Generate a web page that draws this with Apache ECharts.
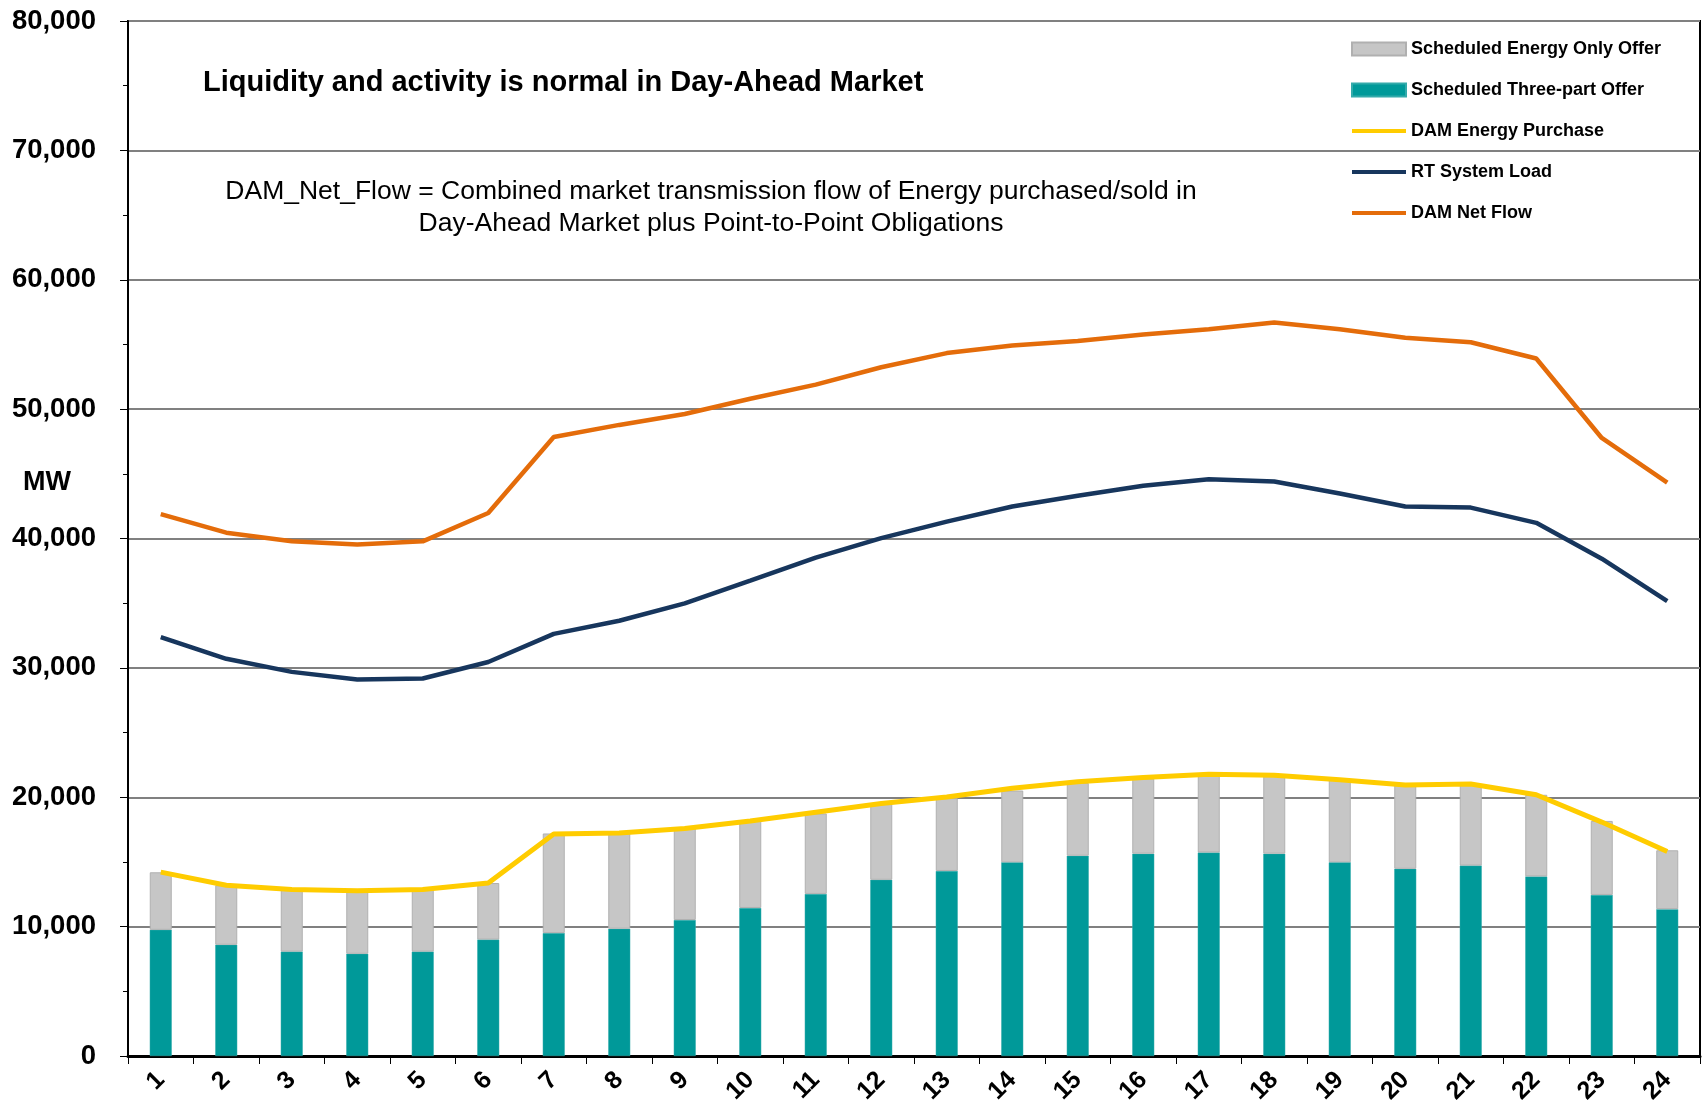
<!DOCTYPE html>
<html>
<head>
<meta charset="utf-8">
<script src="https://cdn.jsdelivr.net/npm/echarts@6/dist/echarts.min.js"></script>
<style>
  html, body { margin: 0; padding: 0; background: #fff; }
  #chart { width: 1707px; height: 1110px; }
</style>
</head>
<body>
<div id="chart"></div>
<script>
// hours of the operating day
const hours = ['1','2','3','4','5','6','7','8','9','10','11','12','13','14','15','16','17','18','19','20','21','22','23','24'];

// MW values
const threePartOffer = [9750, 8600, 8070, 7900, 8070, 9000, 9500, 9840, 10510, 11440, 12530, 13620, 14300, 14970, 15480, 15640, 15730, 15640, 14970, 14470, 14720, 13880, 12450, 11350];
const energyOnlyOffer = [4450, 4600, 4800, 4880, 4800, 4370, 7700, 7400, 7090, 6730, 6220, 5890, 5630, 5550, 5630, 5810, 6050, 6060, 6390, 6470, 6310, 6310, 5720, 4550];
const damEnergyPurchase = [14210, 13200, 12870, 12780, 12870, 13370, 17160, 17240, 17580, 18170, 18840, 19510, 20020, 20690, 21190, 21530, 21780, 21700, 21360, 20940, 21030, 20190, 18080, 15810];
const rtSystemLoad = [32380, 30700, 29690, 29100, 29180, 30450, 32630, 33640, 34990, 36750, 38520, 40030, 41300, 42470, 43310, 44070, 44580, 44410, 43480, 42470, 42390, 41210, 38440, 35160];
const damNetFlow = [41880, 40450, 39780, 39530, 39780, 41970, 47850, 48780, 49620, 50800, 51890, 53240, 54330, 54920, 55260, 55760, 56180, 56690, 56180, 55510, 55170, 53910, 47770, 44320];

const yTicks = { min: 0, max: 80000, interval: 10000 };

const chart = echarts.init(document.getElementById('chart'));
const font = 'Arial, "Liberation Sans", sans-serif';
const lineIcon = 'path://M0,0 L54,0 L54,4 L0,4 Z';

chart.setOption({
  backgroundColor: '#fff',
  animation: false,
  textStyle: { fontFamily: font },
  grid: {
    left: 128, top: 21, right: 7, bottom: 54,
    show: true, borderColor: '#000', borderWidth: 2
  },
  title: {
    text: 'Liquidity and activity is normal in Day-Ahead Market',
    left: 198, top: 63,
    textStyle: { fontFamily: font, fontSize: 29, fontWeight: 'bold', color: '#000' }
  },
  graphic: [
    {
      type: 'text', x: 711, y: 176,
      style: {
        text: 'DAM_Net_Flow = Combined market transmission flow of Energy purchased/sold in\nDay-Ahead Market plus Point-to-Point Obligations',
        font: '26.5px ' + font, fill: '#000', align: 'center', lineHeight: 32
      }
    },
    {
      type: 'text', left: 23, top: 469,
      style: { text: 'MW', font: 'bold 27px ' + font, fill: '#000' }
    }
  ],
  legend: {
    orient: 'vertical',
    left: 1346, top: 35,
    itemWidth: 54, itemHeight: 13, itemGap: 23,
    textStyle: { fontFamily: font, fontSize: 18, fontWeight: 'bold', color: '#000' },
    data: [
      { name: 'Scheduled Energy Only Offer', icon: 'rect' },
      { name: 'Scheduled Three-part Offer', icon: 'rect' },
      { name: 'DAM Energy Purchase', icon: lineIcon },
      { name: 'RT System Load', icon: lineIcon },
      { name: 'DAM Net Flow', icon: lineIcon }
    ]
  },
  xAxis: {
    type: 'category',
    data: hours,
    boundaryGap: true,
    axisLine: { lineStyle: { color: '#000', width: 3 } },
    axisTick: { show: true, length: 8, lineStyle: { color: '#000', width: 1 } },
    axisLabel: { rotate: 45, margin: 20, fontSize: 25, fontWeight: 'bold', color: '#000', fontFamily: font },
    splitLine: { show: false }
  },
  yAxis: {
    type: 'value',
    min: yTicks.min, max: yTicks.max, interval: yTicks.interval,
    axisLine: { show: true, lineStyle: { color: '#000', width: 2 } },
    axisTick: { show: true, length: 8, lineStyle: { color: '#000', width: 1 } },
    minorTick: { show: true, splitNumber: 2, length: 5, lineStyle: { color: '#000', width: 1 } },
    axisLabel: {
      margin: 32, fontSize: 27.5, fontWeight: 'bold', color: '#000', fontFamily: font,
      formatter: v => v.toLocaleString('en-US')
    },
    splitLine: { show: true, lineStyle: { color: '#808080', width: 2 } }
  },
  series: [
    {
      name: 'Scheduled Three-part Offer', type: 'bar', stack: 'offer',
      data: threePartOffer, barWidth: 22,
      itemStyle: { color: '#009999', borderColor: '#33aaaa', borderWidth: 0.5 }
    },
    {
      name: 'Scheduled Energy Only Offer', type: 'bar', stack: 'offer',
      data: energyOnlyOffer, barWidth: 22,
      itemStyle: { color: '#C6C6C6', borderColor: '#B0B0B0', borderWidth: 1 }
    },
    {
      name: 'DAM Energy Purchase', type: 'line', data: damEnergyPurchase,
      symbol: 'none', lineStyle: { color: '#FFCC00', width: 5 }, itemStyle: { color: '#FFCC00' }
    },
    {
      name: 'RT System Load', type: 'line', data: rtSystemLoad,
      symbol: 'none', lineStyle: { color: '#17365D', width: 4.5 }, itemStyle: { color: '#17365D' }
    },
    {
      name: 'DAM Net Flow', type: 'line', data: damNetFlow,
      symbol: 'none', lineStyle: { color: '#E46C0A', width: 4.5 }, itemStyle: { color: '#E46C0A' }
    }
  ]
});
</script>
</body>
</html>
